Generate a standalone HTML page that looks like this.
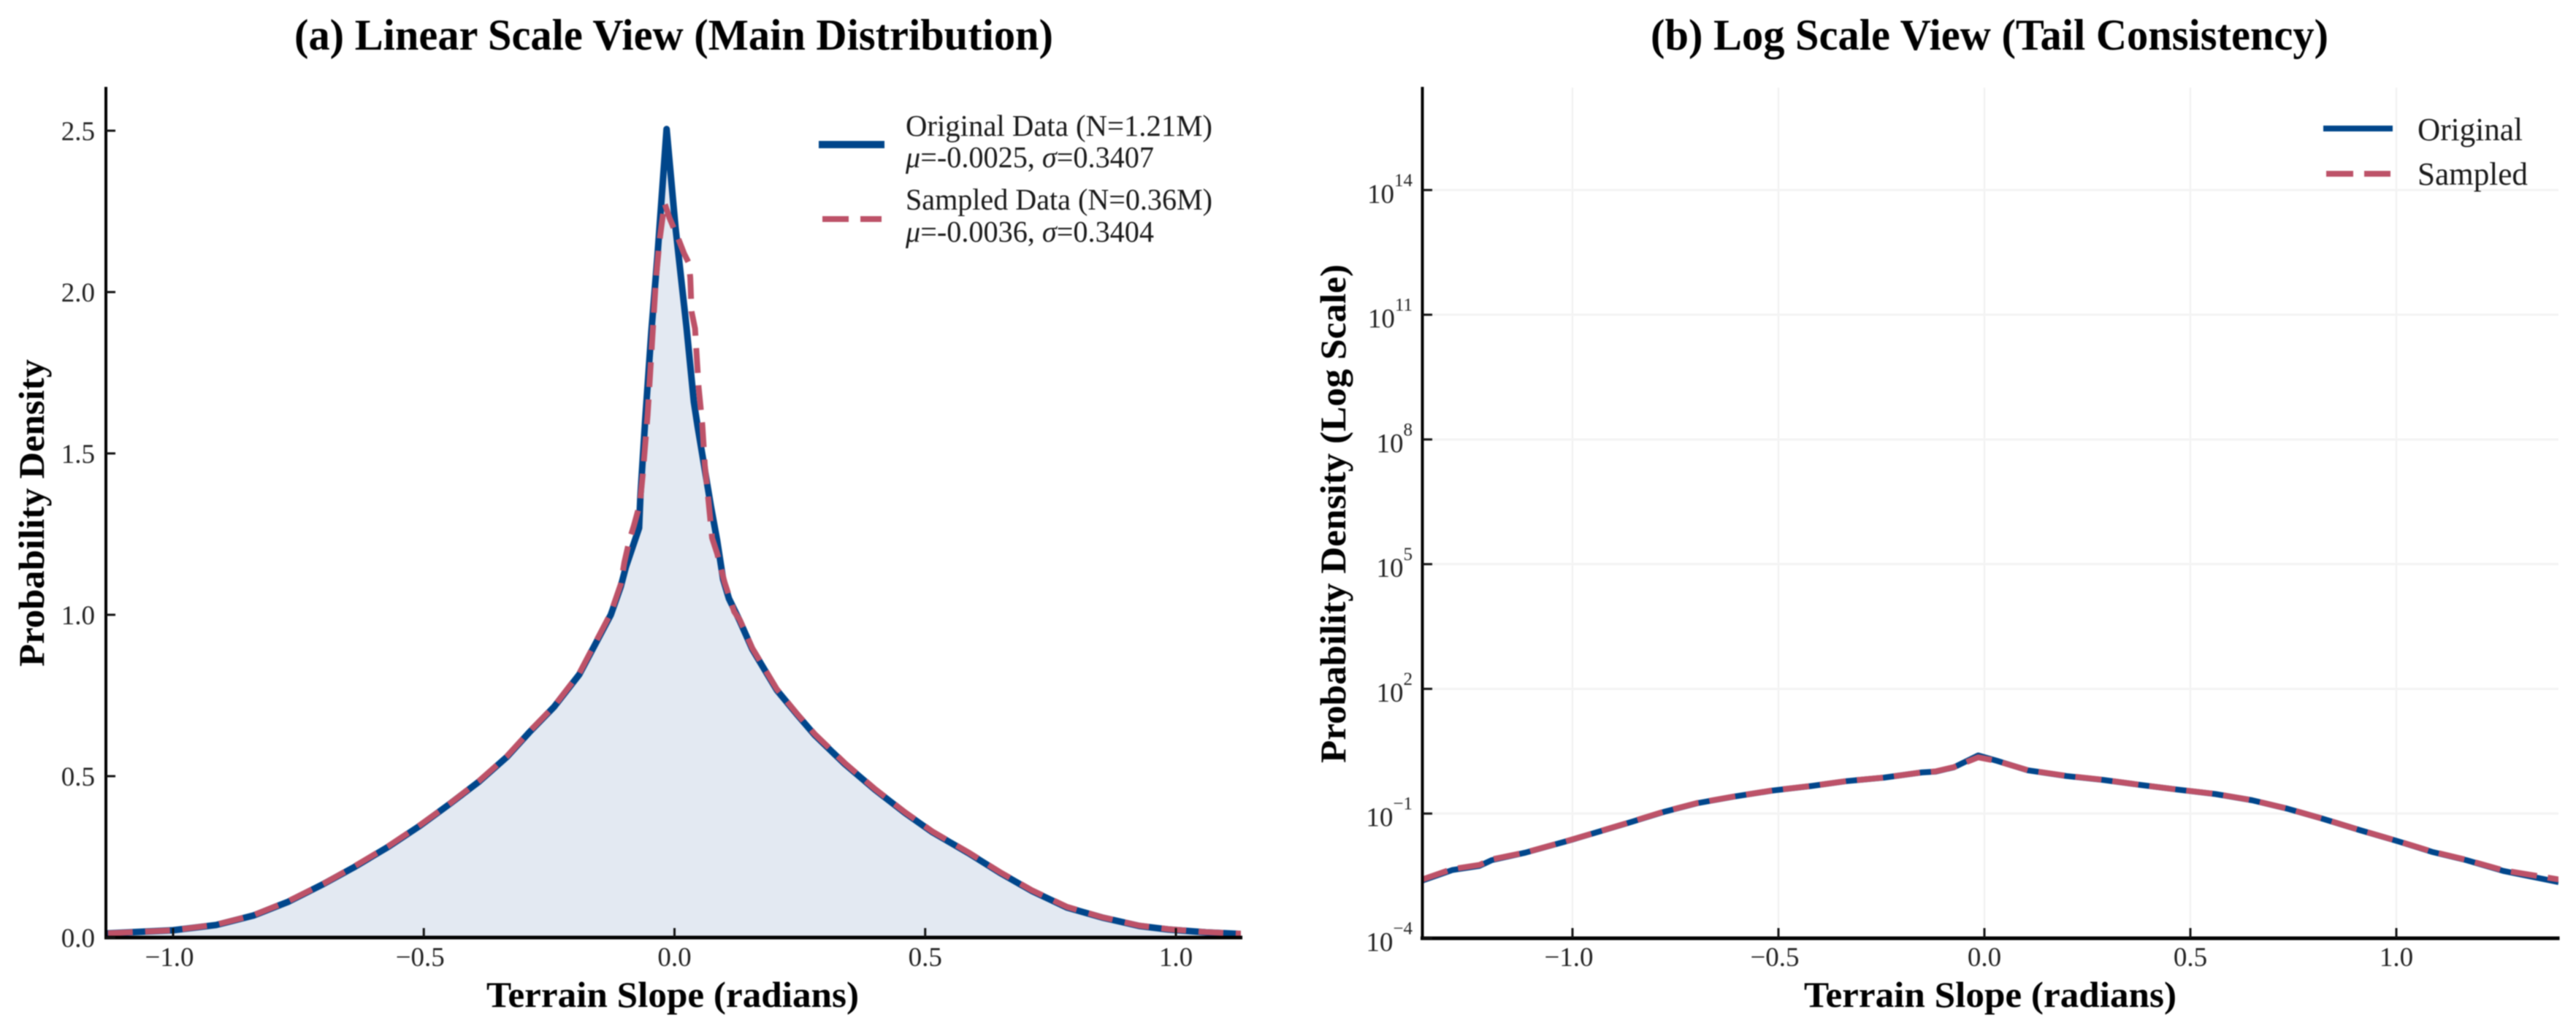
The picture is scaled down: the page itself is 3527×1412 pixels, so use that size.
<!DOCTYPE html>
<html lang="en">
<head>
<meta charset="utf-8">
<title>Terrain Slope Distribution</title>
<style>
html,body{margin:0;padding:0;background:#fff;width:3527px;height:1412px;overflow:hidden}
svg{display:block;filter:blur(0.7px)}
text{font-family:"Liberation Serif","Times New Roman",serif;fill:#111}
.title{font-size:60px;font-weight:bold;fill:#000}
.axis-label{font-size:50px;font-weight:bold;fill:#000}
.tick-label{font-size:37px;fill:#222}
.legend-text{font-size:41px;fill:#1a1a1a}
.legend-text-b{font-size:44px;fill:#1a1a1a}
</style>
</head>
<body>
<svg id="chart" xmlns="http://www.w3.org/2000/svg" width="3527" height="1412" viewBox="0 0 3527 1412">
  <defs>
    <clipPath id="clip-a"><rect x="143" y="119" width="1556" height="1167"/></clipPath>
    <clipPath id="clip-b"><rect x="1947" y="119" width="1556" height="1167"/></clipPath>
  </defs>
  <rect width="3527" height="1412" fill="#fff"/>

  <g id="grid-b"></g>
  <g id="marks-a" clip-path="url(#clip-a)"></g>
  <g id="marks-b" clip-path="url(#clip-b)"></g>
  <g id="axes"></g>

  <text class="title" x="403" y="68" textLength="1039" lengthAdjust="spacingAndGlyphs">(a) Linear Scale View (Main Distribution)</text>
  <text class="title" x="2260" y="68" textLength="928" lengthAdjust="spacingAndGlyphs">(b) Log Scale View (Tail Consistency)</text>

  <text class="axis-label" x="666" y="1379" textLength="510" lengthAdjust="spacingAndGlyphs">Terrain Slope (radians)</text>
  <text class="axis-label" x="2470" y="1379" textLength="510" lengthAdjust="spacingAndGlyphs">Terrain Slope (radians)</text>
  <text class="axis-label" transform="translate(60 913) rotate(-90)" textLength="421" lengthAdjust="spacingAndGlyphs">Probability Density</text>
  <text class="axis-label" transform="translate(1842 1045) rotate(-90)" textLength="683" lengthAdjust="spacingAndGlyphs">Probability Density (Log Scale)</text>

  <g>
    <line x1="1121" y1="198" x2="1211" y2="198" stroke="#00468B" stroke-width="10"/>
    <text class="legend-text" x="1240" y="186" textLength="420" lengthAdjust="spacingAndGlyphs">Original Data (N=1.21M)</text>
    <text class="legend-text" x="1240" y="229" textLength="340" lengthAdjust="spacingAndGlyphs"><tspan font-style="italic">μ</tspan>=-0.0025, <tspan font-style="italic">σ</tspan>=0.3407</text>
    <line x1="1126" y1="300" x2="1162" y2="300" stroke="#BD5268" stroke-width="8"/>
    <line x1="1178" y1="300" x2="1207" y2="300" stroke="#BD5268" stroke-width="8"/>
    <text class="legend-text" x="1240" y="287" textLength="420" lengthAdjust="spacingAndGlyphs">Sampled Data (N=0.36M)</text>
    <text class="legend-text" x="1240" y="331" textLength="340" lengthAdjust="spacingAndGlyphs"><tspan font-style="italic">μ</tspan>=-0.0036, <tspan font-style="italic">σ</tspan>=0.3404</text>
  </g>

  <g>
    <line x1="3181" y1="176" x2="3276" y2="176" stroke="#00468B" stroke-width="8"/>
    <text class="legend-text-b" x="3310" y="192" textLength="144" lengthAdjust="spacingAndGlyphs">Original</text>
    <line x1="3185" y1="238" x2="3222" y2="238" stroke="#BD5268" stroke-width="8"/>
    <line x1="3237" y1="238" x2="3273" y2="238" stroke="#BD5268" stroke-width="8"/>
    <text class="legend-text-b" x="3310" y="253" textLength="151" lengthAdjust="spacingAndGlyphs">Sampled</text>
  </g>
</svg>

<script>
// Panel (a): slope (radians) and probability density
const linearOriginalX = [-1.13,-1.0,-0.914,-0.84,-0.77,-0.70,-0.64,-0.572,-0.509,-0.45,-0.39,-0.334,-0.29,-0.24,-0.19,-0.127,-0.107,-0.097,-0.0706,-0.068,-0.0586,-0.046,-0.034,-0.0157,0.002,0.024,0.0386,0.046,0.0605,0.0725,0.085,0.097,0.1087,0.13,0.155,0.204,0.245,0.28,0.34,0.40,0.46,0.515,0.586,0.649,0.712,0.783,0.853,0.927,0.985,1.06,1.13];
const linearOriginalY = [0.013,0.0226,0.039,0.068,0.111,0.166,0.217,0.28,0.345,0.412,0.483,0.56,0.635,0.715,0.815,1.0,1.088,1.148,1.269,1.367,1.60,1.88,2.113,2.505,2.2,1.89,1.66,1.585,1.45,1.337,1.23,1.11,1.05,0.982,0.894,0.767,0.69,0.627,0.537,0.458,0.386,0.326,0.262,0.201,0.145,0.093,0.062,0.036,0.025,0.016,0.011];
const linearSampledX = [-1.13,-1.0,-0.914,-0.84,-0.77,-0.70,-0.64,-0.572,-0.509,-0.45,-0.39,-0.334,-0.29,-0.24,-0.19,-0.127,-0.107,-0.10,-0.09,-0.081,-0.069,-0.0634,-0.0536,-0.044,-0.037,-0.03,-0.02,-0.01,0.0095,0.019,0.0285,0.0315,0.034,0.041,0.048,0.0556,0.0605,0.068,0.075,0.085,0.10,0.119,0.13,0.155,0.204,0.245,0.28,0.34,0.40,0.46,0.515,0.586,0.649,0.712,0.783,0.853,0.927,0.985,1.06,1.13];
const linearSampledY = [0.013,0.0226,0.04,0.069,0.113,0.167,0.219,0.282,0.347,0.413,0.485,0.562,0.637,0.717,0.818,1.005,1.095,1.163,1.23,1.276,1.344,1.434,1.62,1.864,2.04,2.158,2.276,2.23,2.158,2.12,2.09,2.045,1.94,1.887,1.706,1.586,1.464,1.35,1.238,1.19,1.10,1.01,0.985,0.897,0.77,0.692,0.63,0.54,0.46,0.388,0.328,0.264,0.203,0.147,0.095,0.063,0.037,0.026,0.017,0.012];

// Panel (b): slope (radians) and probability density on a log axis
const logSlope = [-1.364,-1.292,-1.226,-1.196,-1.114,-1.002,-0.87,-0.778,-0.697,-0.605,-0.514,-0.422,-0.335,-0.244,-0.152,-0.119,-0.074,-0.015,0.03,0.105,0.199,0.288,0.377,0.466,0.561,0.65,0.734,0.823,0.912,1.002,1.086,1.17,1.26,1.394];
const logOriginal = [0.00245,0.00437,0.0055,0.00759,0.0115,0.0234,0.0575,0.11,0.178,0.259,0.358,0.457,0.603,0.733,0.977,1.02,1.30,2.50,1.86,1.10,0.80,0.646,0.49,0.38,0.295,0.209,0.132,0.0741,0.0398,0.0219,0.012,0.00759,0.00417,0.00224];
const logSampled = [0.0026,0.0046,0.0058,0.0079,0.0116,0.0236,0.058,0.111,0.18,0.26,0.36,0.46,0.605,0.735,0.98,1.03,1.31,2.25,1.84,1.11,0.805,0.65,0.492,0.382,0.297,0.21,0.133,0.0745,0.04,0.022,0.0122,0.0077,0.0043,0.0026];

// Tick values and labels
const linearXTicks = [-1, -0.5, 0, 0.5, 1];
const linearXLabels = ["\u22121.0", "\u22120.5", "0.0", "0.5", "1.0"];
const linearYTicks = [0, 0.5, 1, 1.5, 2, 2.5];
const linearYLabels = ["0.0", "0.5", "1.0", "1.5", "2.0", "2.5"];
const logXTicks = [-1, -0.5, 0, 0.5, 1];
const logXLabels = ["\u22121.0", "\u22120.5", "0.0", "0.5", "1.0"];
const logYExponents = [14, 11, 8, 5, 2, -1, -4];

// Axis functions
const xA = v => 923.5 + v * 686.5;
const yA = v => 1284 - v * 442;
const xB = v => 2717 + v * 564;
const yB = v => 1285 - (Math.log10(v) + 4) * 56.93;

const NS = "http://www.w3.org/2000/svg";
function make(parent, tag, attrs, text) {
  const el = document.createElementNS(NS, tag);
  for (const k in attrs) el.setAttribute(k, attrs[k]);
  if (text !== undefined) el.textContent = text;
  parent.appendChild(el);
  return el;
}
function pts(xs, ys, fx, fy) {
  return xs.map((x, i) => fx(x).toFixed(1) + "," + fy(ys[i]).toFixed(1)).join(" ");
}
const BLUE = "#00468B", RED = "#BD5268";
const marksA = document.getElementById("marks-a");
const marksB = document.getElementById("marks-b");
const gridB = document.getElementById("grid-b");
const axes = document.getElementById("axes");

// Log panel grid
logXTicks.forEach(v => {
  const l = make(gridB, "line", {x1: xB(v), x2: xB(v), y1: 120, y2: 1284, stroke: "#f0f0f0", "stroke-width": 2});
  
  
});
logYExponents.slice(0, -1).forEach(e => {
  const y = yB(Math.pow(10, e));
  const l = make(gridB, "line", {x1: 1947, x2: 3503, y1: y, y2: y, stroke: "#f3f3f3", "stroke-width": 3});
  
  
});

// Linear panel series
const fillPts = xA(linearOriginalX[0]).toFixed(1) + ",1284 " + pts(linearOriginalX, linearOriginalY, xA, yA) + " " + xA(linearOriginalX[linearOriginalX.length - 1]).toFixed(1) + ",1284";
const areaA = make(marksA, "polygon", {points: fillPts, fill: "#E3E9F2", stroke: "none"});


const lineA1 = make(marksA, "polyline", {points: pts(linearOriginalX, linearOriginalY, xA, yA), fill: "none", stroke: BLUE, "stroke-width": 9, "stroke-linejoin": "round", "stroke-linecap": "round"});


const lineA2 = make(marksA, "polyline", {points: pts(linearSampledX, linearSampledY, xA, yA), fill: "none", stroke: RED, "stroke-width": 8, "stroke-dasharray": "34 17", "stroke-linejoin": "round"});



// Log panel series
const lineB1 = make(marksB, "polyline", {points: pts(logSlope, logOriginal, xB, yB), fill: "none", stroke: BLUE, "stroke-width": 8, "stroke-linejoin": "round"});


const lineB2 = make(marksB, "polyline", {points: pts(logSlope, logSampled, xB, yB), fill: "none", stroke: RED, "stroke-width": 8, "stroke-dasharray": "36 15", "stroke-linejoin": "round"});



// Spines
const spineA1 = make(axes, "line", {x1: 145, x2: 145, y1: 119, y2: 1286, stroke: "#000", "stroke-width": 4});


const spineA2 = make(axes, "line", {x1: 143, x2: 1701, y1: 1284, y2: 1284, stroke: "#000", "stroke-width": 5});


const spineB1 = make(axes, "line", {x1: 1947.5, x2: 1947.5, y1: 119, y2: 1287, stroke: "#000", "stroke-width": 4});


const spineB2 = make(axes, "line", {x1: 1945, x2: 3504.5, y1: 1285, y2: 1285, stroke: "#000", "stroke-width": 5});



// Linear panel ticks
linearXTicks.forEach((v, i) => {
  const t = make(axes, "line", {x1: xA(v), x2: xA(v), y1: 1284, y2: 1271, stroke: "#111", "stroke-width": 3});
  
  
  const lab = make(axes, "text", {class: "tick-label", x: xA(v) - (v < 0 ? 5 : 0), y: 1323, "text-anchor": "middle"}, linearXLabels[i]);
  
  
});
linearYTicks.forEach((v, i) => {
  const t = make(axes, "line", {x1: 145, x2: 158, y1: yA(v), y2: yA(v), stroke: "#111", "stroke-width": 3});
  
  
  const lab = make(axes, "text", {class: "tick-label", x: 130, y: yA(v) + 13, "text-anchor": "end"}, linearYLabels[i]);
  
  
});

// Log panel ticks
logXTicks.forEach((v, i) => {
  const t = make(axes, "line", {x1: xB(v), x2: xB(v), y1: 1285, y2: 1271, stroke: "#111", "stroke-width": 3});
  
  
  const lab = make(axes, "text", {class: "tick-label", x: xB(v) - (v < 0 ? 5 : 0), y: 1323, "text-anchor": "middle"}, logXLabels[i]);
  
  
});
logYExponents.forEach(e => {
  const y = yB(Math.pow(10, e));
  const t = make(axes, "line", {x1: 1947.5, x2: 1961, y1: y, y2: y, stroke: "#111", "stroke-width": 3});
  
  
  const lab = make(axes, "text", {class: "tick-label", x: 1934, y: y + 17.5, "text-anchor": "end"}, "10");
  
  
  const sup = make(lab, "tspan", {dy: -23, "font-size": 25}, e < 0 ? "\u2212" + Math.abs(e) : String(e));
  
  
});
</script>
</body>
</html>
